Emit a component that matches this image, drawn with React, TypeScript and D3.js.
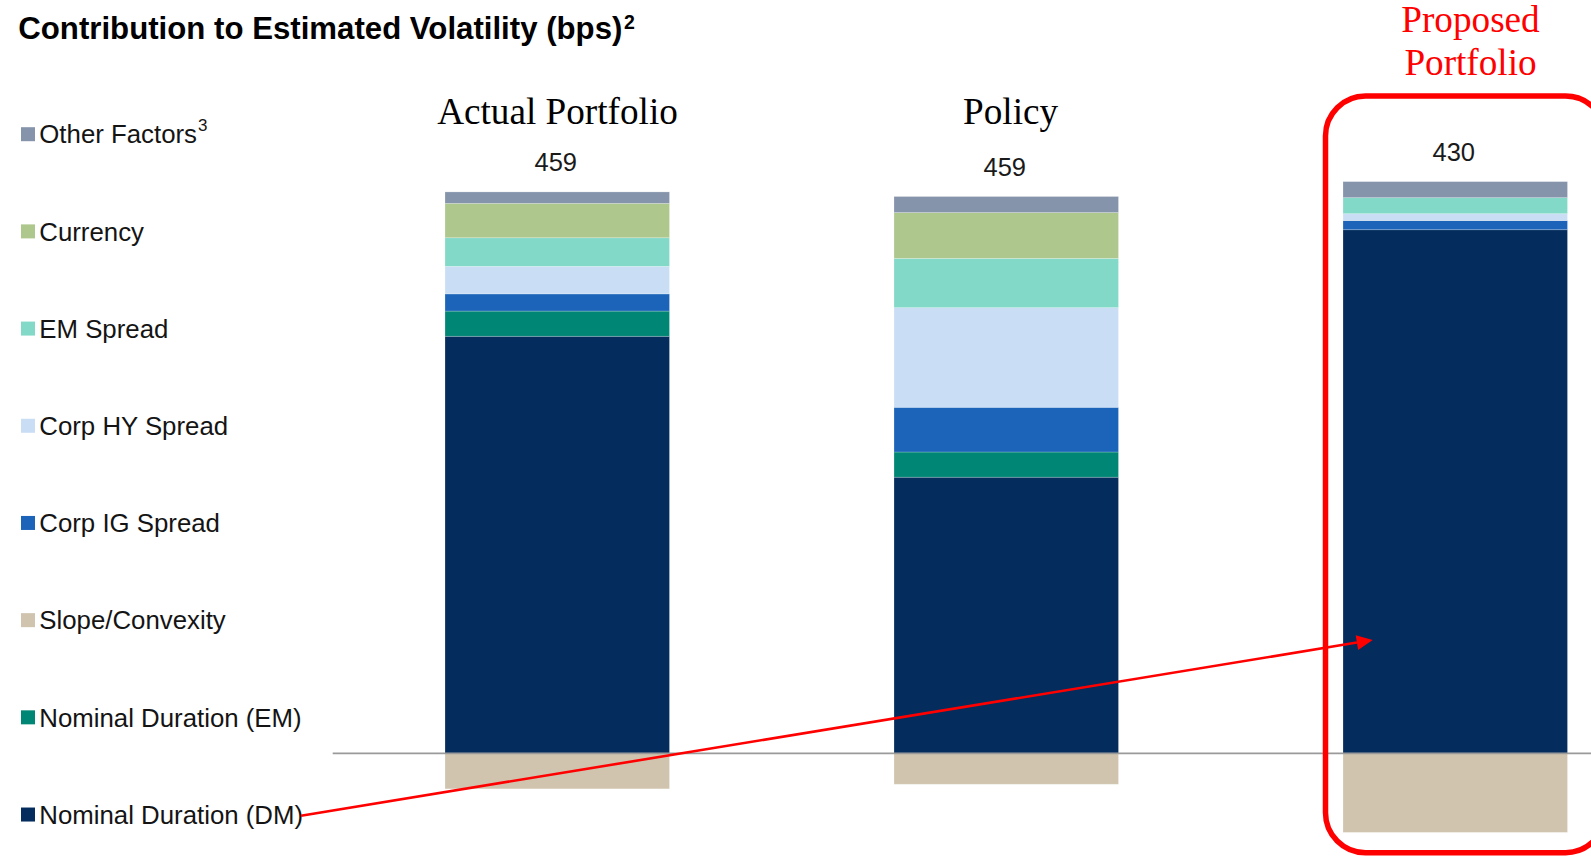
import React from "react";
import * as d3 from "d3";

// Portfolios shown as stacked columns
const portfolios = ["Actual Portfolio", "Policy", "Proposed Portfolio"];

// Contribution to estimated volatility (bps) by risk factor
const nominalDurationDM = [364, 241, 457];
const nominalDurationEM = [22, 22, 0];
const slopeConvexity = [-31, -27, -69];
const corpIGSpread = [15, 39, 8];
const corpHYSpread = [24, 87, 6];
const emSpread = [25, 43, 14];
const currency = [30, 40, 0];
const otherFactors = [10, 14, 14];

// Totals printed above each column
const totals = [459, 459, 430];

// Legend entries, top to bottom
const legendLabels = [
  "Other Factors",
  "Currency",
  "EM Spread",
  "Corp HY Spread",
  "Corp IG Spread",
  "Slope/Convexity",
  "Nominal Duration (EM)",
  "Nominal Duration (DM)",
];

const factorColors: Record<string, string> = {
  "Other Factors": "#8593ab",
  Currency: "#aec78d",
  "EM Spread": "#83d9c8",
  "Corp HY Spread": "#c9def5",
  "Corp IG Spread": "#1c64b9",
  "Slope/Convexity": "#d0c4ae",
  "Nominal Duration (EM)": "#008674",
  "Nominal Duration (DM)": "#042c5c",
};

// Stacking order from the zero line outward
const stackKeys = [
  "Nominal Duration (DM)",
  "Nominal Duration (EM)",
  "Slope/Convexity",
  "Corp IG Spread",
  "Corp HY Spread",
  "EM Spread",
  "Currency",
  "Other Factors",
];

const rows = portfolios.map((p, i) => ({
  portfolio: p,
  "Nominal Duration (DM)": nominalDurationDM[i],
  "Nominal Duration (EM)": nominalDurationEM[i],
  "Slope/Convexity": slopeConvexity[i],
  "Corp IG Spread": corpIGSpread[i],
  "Corp HY Spread": corpHYSpread[i],
  "EM Spread": emSpread[i],
  Currency: currency[i],
  "Other Factors": otherFactors[i],
  total: totals[i],
}));

const W = 1591;
const H = 857;

export default function App() {
  const x = d3
    .scaleBand<string>()
    .domain(portfolios)
    .range([220.5, 1792])
    .paddingInner(0.5)
    .paddingOuter(0.5);

  const y = d3.scaleLinear().domain([-80, 520]).range([845.0, 157.54]);

  const series = d3
    .stack<any>()
    .keys(stackKeys)
    .offset(d3.stackOffsetDiverging)(rows);

  const topOf = (i: number) =>
    d3.max(series, (s) => Math.max(s[i][0], s[i][1])) as number;

  const legendTop = 134.2;
  const legendStep = 97.19;

  const sans = "'Liberation Sans', Arial, sans-serif";
  const serif = "'Liberation Serif', 'Times New Roman', serif";

  // Arrow from the DM legend entry into the proposed column
  const arrowFrom: [number, number] = [301, 815.7];
  const arrowTo: [number, number] = [1372.7, 640];
  const ang = Math.atan2(arrowTo[1] - arrowFrom[1], arrowTo[0] - arrowFrom[0]);
  const headLen = 16;
  const headHalf = 7.5;
  const bx = arrowTo[0] - headLen * Math.cos(ang);
  const by = arrowTo[1] - headLen * Math.sin(ang);
  const head = [
    arrowTo,
    [bx + headHalf * Math.sin(ang), by - headHalf * Math.cos(ang)],
    [bx - headHalf * Math.sin(ang), by + headHalf * Math.cos(ang)],
  ];

  return (
    <svg
      width={W}
      height={H}
      style={{ position: "absolute", left: 0, top: 0, background: "#fff" }}
    >
      {/* Title */}
      <text
        x={18.3}
        y={38.5}
        fontFamily={sans}
        fontWeight="bold"
        fontSize={31.2}
        fill="#000"
      >
        Contribution to Estimated Volatility (bps)
        <tspan fontSize={19.5} dy={-10} dx={1.5}>
          2
        </tspan>
      </text>

      {/* Legend */}
      {legendLabels.map((lab, i) => {
        const cy = legendTop + i * legendStep;
        return (
          <g key={lab}>
            <rect x={21} y={cy - 7} width={14} height={14} fill={factorColors[lab]} />
            <text x={39.3} y={cy + 9.2} fontFamily={sans} fontSize={25.8} fill="#141414">
              {lab}
              {lab === "Other Factors" ? (
                <tspan fontSize={17} dy={-12} dx={1}>
                  3
                </tspan>
              ) : null}
            </text>
          </g>
        );
      })}

      {/* Stacked columns */}
      {series.map((s) => (
        <g key={s.key} fill={factorColors[s.key]}>
          {s.map((d, i) => {
            const y0 = y(Math.max(d[0], d[1]));
            const y1 = y(Math.min(d[0], d[1]));
            if (y1 - y0 <= 0) return null;
            return (
              <rect
                key={i}
                x={x(portfolios[i])}
                y={y0}
                width={x.bandwidth()}
                height={y1 - y0}
                stroke="rgba(255,255,255,0.28)"
                strokeWidth={0.8}
              />
            );
          })}
        </g>
      ))}

      {/* Zero line */}
      <line x1={332.7} x2={W} y1={y(0)} y2={y(0)} stroke="#9a9a9a" strokeWidth={1.6} />

      {/* Totals above columns */}
      {rows.map((r, i) => (
        <text
          key={r.portfolio}
          x={(x(r.portfolio) as number) + x.bandwidth() / 2 - 1.5}
          y={y(topOf(i)) - 20.8}
          textAnchor="middle"
          fontFamily={sans}
          fontSize={25.5}
          fill="#1a1a1a"
        >
          {r.total}
        </text>
      ))}

      {/* Column headings */}
      <text x={557.5} y={124} textAnchor="middle" fontFamily={serif} fontSize={37.2} fill="#000">
        Actual Portfolio
      </text>
      <text x={1010.6} y={124} textAnchor="middle" fontFamily={serif} fontSize={37.2} fill="#000">
        Policy
      </text>
      <text x={1470.5} y={32.3} textAnchor="middle" fontFamily={serif} fontSize={37.2} fill="#ff0000">
        Proposed
      </text>
      <text x={1470.5} y={75.3} textAnchor="middle" fontFamily={serif} fontSize={37.2} fill="#ff0000">
        Portfolio
      </text>

      {/* Highlight around the proposed column */}
      <rect
        x={1325.5}
        y={96}
        width={280}
        height={756.7}
        rx={40}
        ry={40}
        fill="none"
        stroke="#ff0000"
        strokeWidth={5.5}
      />

      {/* Arrow */}
      <line
        x1={arrowFrom[0]}
        y1={arrowFrom[1]}
        x2={bx}
        y2={by}
        stroke="#ff0000"
        strokeWidth={2.6}
      />
      <polygon points={head.map((p) => p.join(",")).join(" ")} fill="#ff0000" />
    </svg>
  );
}
